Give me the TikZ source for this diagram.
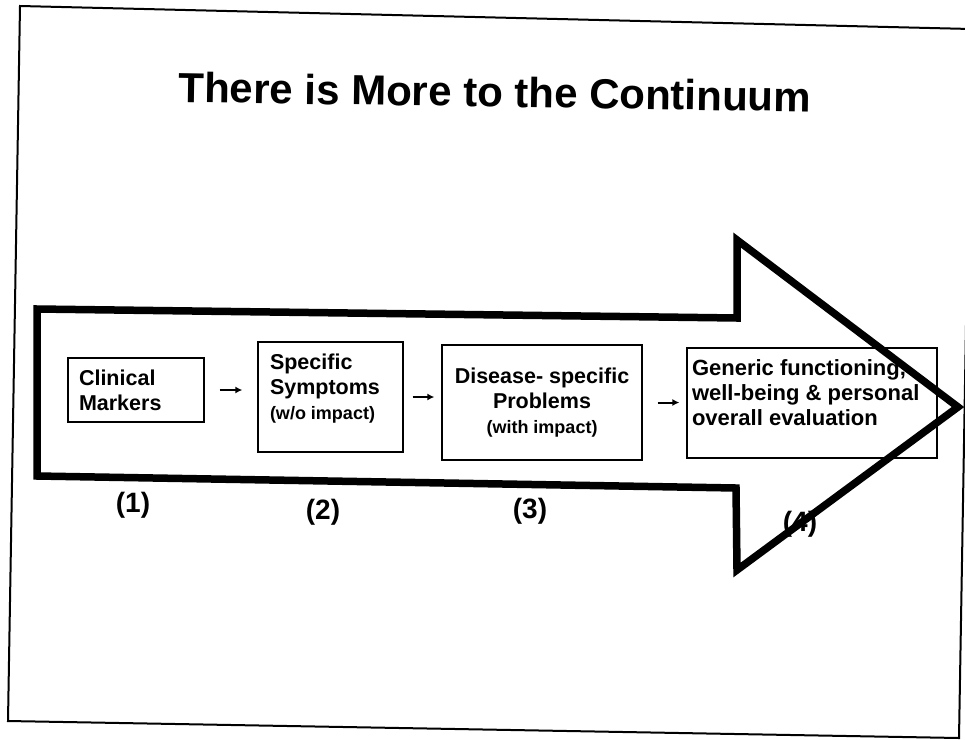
\documentclass[tikz,border=0pt]{standalone}
\usepackage{fontspec}
\setmainfont{Liberation Sans}
\usetikzlibrary{arrows.meta,positioning}

\newcommand\subfont{\fontsize{18}{22}\selectfont}

\begin{document}
\begin{tikzpicture}[
  x=1pt, y=-1pt,
  box/.style={rectangle, draw=black, line width=1.3pt, fill=white, inner sep=12pt,
              font=\fontsize{21.5}{25}\selectfont\bfseries},
  title/.style={font=\fontsize{42}{48}\selectfont\bfseries},
  stage/.style={font=\fontsize{28}{32}\selectfont\bfseries},
  sarr/.style={-{Latex[length=7pt,width=7pt]}, line width=2pt},
  bigarr/.style={line width=7.5pt, line join=miter},
  frame/.style={line width=2pt},
]
  \useasboundingbox (0,0) rectangle (965,739);

  % Slide frame
  \draw[frame] (20,6) -- (971,29) -- (959,738) -- (8,721) -- cycle;

  % Title
  \node[title, rotate=-0.9] (title) at (495,92) {There is More to the Continuum};

  % Stages
  \node[box, inner xsep=11pt] (clin) at (136,390)
    {\parbox[c][40pt][t]{114pt}{Clinical\\Markers}};
  \node[box] (symp) at (330.5,397)
    {\parbox[c][86pt][t]{121pt}{Specific\\Symptoms\\{\subfont (w/o impact)}}};
  \node[box, align=center, minimum width=200pt, minimum height=115pt] (dis) at (542,402.5)
    {Disease- specific\\Problems\\{\subfont (with impact)}};
  \node[box, inner xsep=5pt, font=\fontsize{22}{25}\selectfont\bfseries] (gen) at (812,403)
    {\parbox[c][86pt][t]{240pt}{Generic functioning,\\well-being \& personal\\overall evaluation}};

  % Arrows between stages
  \draw[sarr, shorten <=15pt, shorten >=15pt] (clin.east) -- (clin.east -| symp.west);
  \draw[sarr, shorten <=9pt, shorten >=7pt] (symp.east) -- (symp.east -| dis.west);
  \draw[sarr, shorten <=15pt, shorten >=7pt] (dis.east) -- (dis.east -| gen.west);

  % Stage numbers
  \node[stage] (n1) at (133,505) {(1)};
  \node[stage] (n2) at (323,512) {(2)};
  \node[stage] (n3) at (530,511) {(3)};
  \node[stage] (n4) at (800,524) {(4)};

  % Big continuum arrow
  \draw[bigarr] (37,309) -- (737,318) -- (737,240) -- (958,407) -- (737,570)
    -- (736,488) -- (37,476) -- cycle;
\end{tikzpicture}
\end{document}
